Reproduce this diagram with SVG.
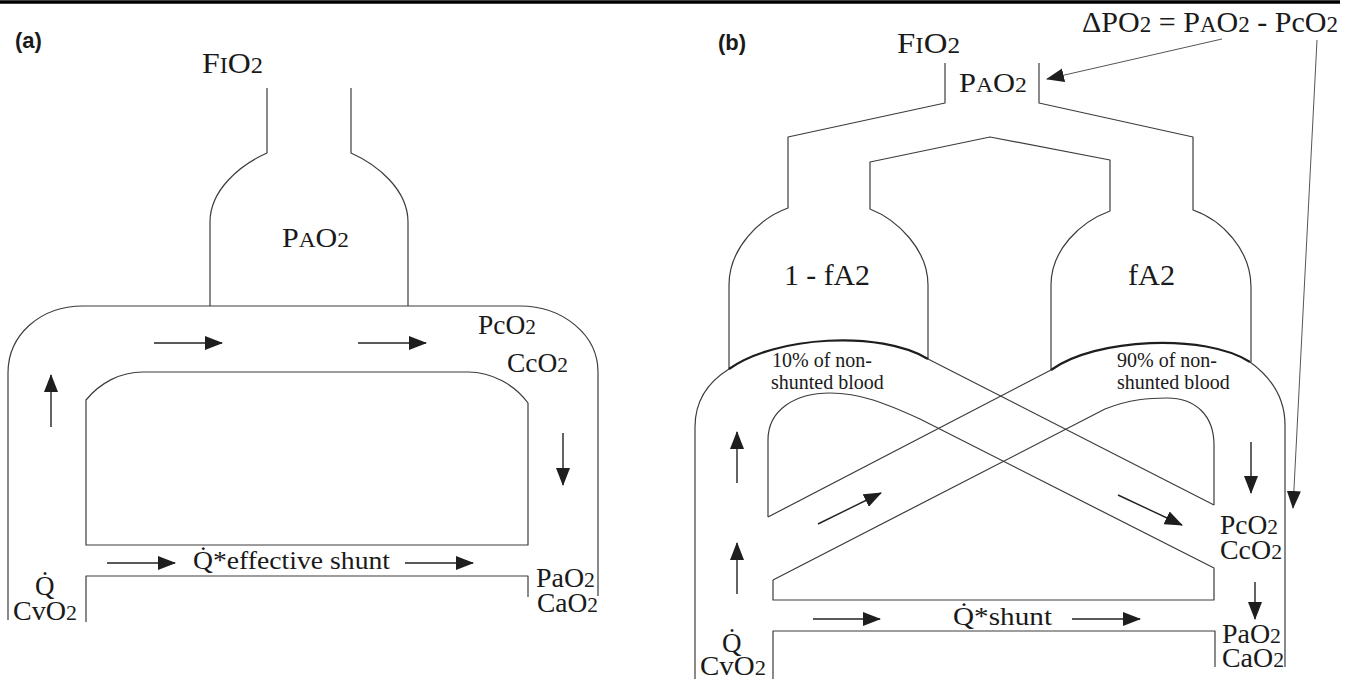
<svg xmlns="http://www.w3.org/2000/svg" width="1356" height="679" viewBox="0 0 1356 679">
<style>
.ln{fill:none;stroke:#3c3c3c;stroke-width:1.2;stroke-linejoin:round}
.dome{fill:none;stroke:#1e1e1e;stroke-width:2.2}
.ar{fill:none;stroke:#222;stroke-width:1.4;marker-end:url(#ah)}
.thin{fill:none;stroke:#555;stroke-width:1;marker-end:url(#ah)}
.t{font-family:"Liberation Serif","Times New Roman",serif;fill:#1a1a1a}
.f27{font-size:27px}
.f30{font-size:30px}
.f26{font-size:26px}
.f20{font-size:20px}
.s{font-size:21px}
.s23{font-size:23px}
.lab{font-family:"Liberation Sans",Arial,sans-serif;font-weight:bold;font-size:22px;fill:#1a1a1a}
</style>
<defs>
<marker id="ah" viewBox="0 0 18 14" refX="17" refY="7" markerWidth="18" markerHeight="14" markerUnits="userSpaceOnUse" orient="auto">
<path d="M0,0 L18,7 L0,14 Z" fill="#1e1e1e"/>
</marker>
</defs>
<rect width="1356" height="679" fill="#fff"/>
<line x1="0" y1="2" x2="1340" y2="2" stroke="#000" stroke-width="3.5"/>

<!-- Panel (a) -->
<g id="a-label"><text class="lab" x="15" y="48">(a)</text></g>
<g id="a-alveolus">
<path class="ln" d="M267,88 V153 C240,165 210,190 210,222 V306"/>
<path class="ln" d="M351,88 V153 C378,165 408,190 408,222 V306"/>
<text class="t f30" x="202" y="73" textLength="61" lengthAdjust="spacingAndGlyphs">F<tspan class="s23">I</tspan>O<tspan class="s23">2</tspan></text>
<text class="t f27" x="282" y="247" textLength="67" lengthAdjust="spacingAndGlyphs">P<tspan class="s">A</tspan>O<tspan class="s">2</tspan></text>
</g>
<g id="a-capillary">
<path class="ln" d="M8,620 V373 C8,335 40,306 83,306 H520 C563,306 598,335 598,372 V596"/>
<path class="ln" d="M86,545 V400 C100,383 120,372 143,372 H468 C492,372 515,385 528,403 V545 Z"/>
<path class="ln" d="M86,622 V576 H528 V597"/>
<text class="t f27" x="478" y="334" textLength="58" lengthAdjust="spacingAndGlyphs">PcO<tspan class="s">2</tspan></text>
<text class="t f27" x="507" y="372" textLength="61" lengthAdjust="spacingAndGlyphs">CcO<tspan class="s">2</tspan></text>
<text class="t f27" x="536" y="587" textLength="59" lengthAdjust="spacingAndGlyphs">PaO<tspan class="s">2</tspan></text>
<text class="t f27" x="537" y="612" textLength="61" lengthAdjust="spacingAndGlyphs">CaO<tspan class="s">2</tspan></text>
<text class="t f27" x="35" y="595">Q&#x307;</text>
<text class="t f27" x="13" y="620" textLength="64" lengthAdjust="spacingAndGlyphs">CvO<tspan class="s">2</tspan></text>
<text class="t f26" x="193" y="569" textLength="197" lengthAdjust="spacingAndGlyphs">Q&#x307;*effective shunt</text>
</g>

<!-- Panel (b) -->
<g id="b-label"><text class="lab" x="718" y="50">(b)</text></g>
<g id="b-airway">
<path class="ln" d="M945,63 V103 L788,137 V208 C760,218 729,248 729,285 V369"/>
<path class="ln" d="M1039,63 V103 L1193,137 V210 C1222,220 1251,250 1251,287 V362"/>
<path class="ln" d="M928,359 V285 C928,250 898,220 870,209 V162 L990,137 L1110,160 V211 C1080,222 1051,250 1051,285 V370"/>
<text class="t f30" x="897" y="53" textLength="63" lengthAdjust="spacingAndGlyphs">F<tspan class="s23">I</tspan>O<tspan class="s23">2</tspan></text>
<text class="t f27" x="959" y="92" textLength="68" lengthAdjust="spacingAndGlyphs">P<tspan class="s">A</tspan>O<tspan class="s">2</tspan></text>
<text class="t f30" x="784" y="285" textLength="86" lengthAdjust="spacingAndGlyphs">1 - fA2</text>
<text class="t f30" x="1128" y="285" textLength="47" lengthAdjust="spacingAndGlyphs">fA2</text>
</g>
<g id="b-equation">
<text class="t f30" x="1082" y="32" textLength="256" lengthAdjust="spacingAndGlyphs">ΔPO<tspan class="s23">2</tspan> = P<tspan class="s23">A</tspan>O<tspan class="s23">2</tspan> - PcO<tspan class="s23">2</tspan></text>
</g>
<g id="b-capillary">
<path class="ln" d="M695,679 V427 C695,400 708,382 729,369"/>
<path class="dome" d="M729,369 C775,336 880,330 928,359"/>
<path class="dome" d="M1051,370 C1095,338 1205,333 1250,362"/>
<path class="ln" d="M1250,362 C1272,378 1285,398 1285,425 V667"/>
<path class="ln" d="M928,359 L1214,505"/>
<path class="ln" d="M1051,370 L768,517"/>
<path class="ln" d="M768,517 V440 C768,410 795,393 830,393 C860,393 885,403 920,419 L1214,568 V600 H773 V580"/>
<path class="ln" d="M773,580 L1105,409 C1130,399 1150,398 1167,398 C1195,398 1214,415 1214,445 V505"/>
<path class="ln" d="M773,679 V631 H1215 V667"/>
<text class="t f20" x="772" y="367">10% of non-</text>
<text class="t f20" x="771" y="389">shunted blood</text>
<text class="t f20" x="1117" y="367">90% of non-</text>
<text class="t f20" x="1117" y="389">shunted blood</text>
<text class="t f27" x="1220" y="534" textLength="58" lengthAdjust="spacingAndGlyphs">PcO<tspan class="s">2</tspan></text>
<text class="t f27" x="1220" y="559" textLength="62" lengthAdjust="spacingAndGlyphs">CcO<tspan class="s">2</tspan></text>
<text class="t f27" x="1222" y="643" textLength="59" lengthAdjust="spacingAndGlyphs">PaO<tspan class="s">2</tspan></text>
<text class="t f27" x="1222" y="667" textLength="62" lengthAdjust="spacingAndGlyphs">CaO<tspan class="s">2</tspan></text>
<text class="t f27" x="722" y="652">Q&#x307;</text>
<text class="t f27" x="700" y="675" textLength="66" lengthAdjust="spacingAndGlyphs">CvO<tspan class="s">2</tspan></text>
<text class="t f26" x="953" y="625" textLength="99" lengthAdjust="spacingAndGlyphs">Q&#x307;*shunt</text>
</g>

<g id="connectors">
<line class="ar" x1="154" y1="343" x2="222" y2="343"/>
<line class="ar" x1="358" y1="343" x2="426" y2="343"/>
<line class="ar" x1="51" y1="427" x2="51" y2="375"/>
<line class="ar" x1="563" y1="433" x2="563" y2="485"/>
<line class="ar" x1="107" y1="563" x2="175" y2="563"/>
<line class="ar" x1="405" y1="563" x2="473" y2="563"/>
<line class="ar" x1="737" y1="483" x2="737" y2="432"/>
<line class="ar" x1="737" y1="594" x2="737" y2="543"/>
<line class="ar" x1="818" y1="524" x2="881" y2="493"/>
<line class="ar" x1="1118" y1="495" x2="1182" y2="525"/>
<line class="ar" x1="1251" y1="442" x2="1251" y2="493"/>
<line class="ar" x1="1255" y1="582" x2="1255" y2="619"/>
<line class="ar" x1="813" y1="619" x2="880" y2="619"/>
<line class="ar" x1="1072" y1="619" x2="1140" y2="619"/>
<line class="thin" x1="1222" y1="39" x2="1047" y2="79"/>
<line class="thin" x1="1317" y1="40" x2="1293" y2="508"/>
</g>
</svg>
